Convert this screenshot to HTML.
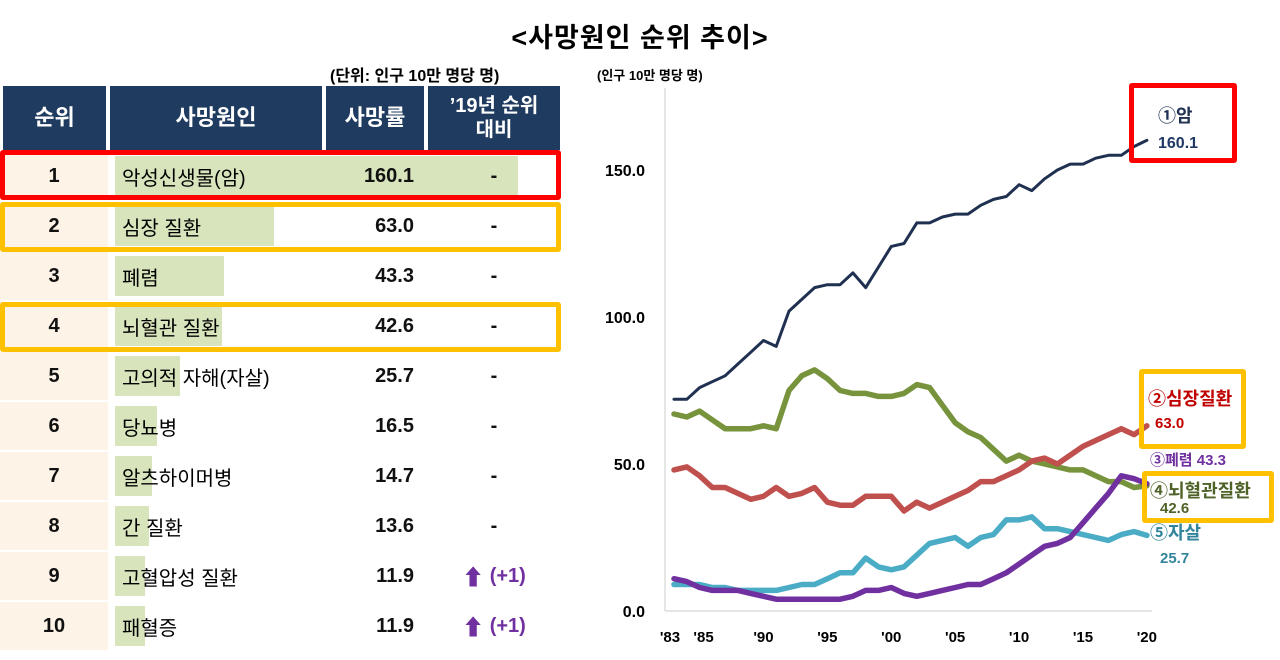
<!DOCTYPE html>
<html><head><meta charset="utf-8"><style>
body{margin:0;width:1280px;height:660px;background:#fff;font-family:"Liberation Sans","Noto Sans CJK KR",sans-serif;position:relative;overflow:hidden}
.a{position:absolute}
.hd{position:absolute;top:86px;height:64px;background:#1f3b5f;color:#fff;font-size:22px;font-weight:bold;display:flex;align-items:center;justify-content:center;text-align:center;line-height:24px}
.row{position:absolute;left:0;width:560px;height:48px;font-size:20px;font-weight:bold;color:#111}
.row>div{position:absolute;top:0;height:48px;display:flex;align-items:center}
.rk{left:0;width:108px;background:#fdf3e6;justify-content:center}
.row>.bar{left:115px;top:4px;height:40px;background:#d8e4bc}
.cn{left:122px;font-weight:normal;color:#000}
.rt{left:326px;width:88px;justify-content:flex-end}
.ch{left:428px;width:132px;justify-content:center}
.box{position:absolute;border:5px solid #f00;border-radius:3px}
.ob{border-color:#ffc000}
</style></head><body>
<div class="a" style="left:0;width:1280px;top:16px;text-align:center;font-size:27px;font-weight:bold;letter-spacing:1px">&lt;사망원인 순위 추이&gt;</div>
<div class="a" style="left:330px;top:62px;font-size:16px;font-weight:bold">(단위: 인구 10만 명당 명)</div>
<div class="hd" style="left:3px;width:103px">순위</div>
<div class="hd" style="left:110px;width:212px">사망원인</div>
<div class="hd" style="left:326px;width:98px">사망률</div>
<div class="hd" style="left:428px;width:132px;font-size:20px">’19년 순위<br>대비</div>
<div id="rows"></div>
<div class="box" style="left:0;top:150px;width:551px;height:40px"></div>
<div class="box ob" style="left:0;top:202px;width:551px;height:40px"></div>
<div class="box ob" style="left:0;top:302px;width:551px;height:40px"></div>
<svg id="chart" class="a" style="left:0;top:0" width="1280" height="660"></svg>
<div class="box" style="left:1129px;top:83px;width:98px;height:70px"></div>
<div class="box ob" style="left:1139px;top:369px;width:97px;height:70px"></div>
<div class="box ob" style="left:1142px;top:471px;width:122px;height:42px"></div>
<script>
const ranks=[1,2,3,4,5,6,7,8,9,10];
const causes=["악성신생물(암)","심장 질환","폐렴","뇌혈관 질환","고의적 자해(자살)","당뇨병","알츠하이머병","간 질환","고혈압성 질환","패혈증"];
const rates=[160.1,63.0,43.3,42.6,25.7,16.5,14.7,13.6,11.9,11.9];
const changes=["-","-","-","-","-","-","-","-","(+1)","(+1)"];
const R=document.getElementById('rows');
ranks.forEach((r,i)=>{
 const d=document.createElement('div');d.className='row';d.style.top=(152+i*50)+'px';
 
 
 const up=changes[i]!=='-'?'<span style="color:#7030a0;font-size:22px">⬆</span><span style="color:#7030a0">&nbsp;'+changes[i]+'</span>':changes[i];
 d.innerHTML='<div class="rk">'+r+'</div><div class="bar" style="width:'+(rates[i]*2.52)+'px"></div><div class="cn">'+causes[i]+'</div><div class="rt">'+rates[i].toFixed(1)+'</div><div class="ch">'+up+'</div>';
 R.appendChild(d);
});
const years=[];for(let y=1983;y<=2020;y++)years.push(y);
const cancer=[72,72,76,78,80,84,88,92,90,102,106,110,111,111,115,110,117,124,125,132,132,134,135,135,138,140,141,145,143,147,150,152,152,154,155,155,158,160.1];
const stroke=[67,66,68,65,62,62,62,63,62,75,80,82,79,75,74,74,73,73,74,77,76,70,64,61,59,55,51,53,51,50,49,48,48,46,44,44,42,42.6];
const heart=[48,49,46,42,42,40,38,39,42,39,40,42,37,36,36,39,39,39,34,37,35,37,39,41,44,44,46,48,51,52,50,53,56,58,60,62,60,63.0];
const pneumonia=[11,10,8,7,7,7,6,5,4,4,4,4,4,4,5,7,7,8,6,5,6,7,8,9,9,11,13,16,19,22,23,25,30,35,40,46,45,43.3];
const suicide=[9,9,9,8,8,7,7,7,7,8,9,9,11,13,13,18,15,14,15,19,23,24,25,22,25,26,31,31,32,28,28,27,26,25,24,26,27,25.7];
const yTicks=[0,50,100,150];
const xTicks=[["'83",1983],["'85",1985],["'90",1990],["'95",1995],["'00",2000],["'05",2005],["'10",2010],["'15",2015],["'20",2020]];
const X=y=>674+(y-1983)*12.78, Y=v=>611-v*2.94;
const S=document.getElementById('chart'),NS='http://www.w3.org/2000/svg';
function el(t,a,txt){const e=document.createElementNS(NS,t);for(const k in a)e.setAttribute(k,a[k]);if(txt!=null)e.textContent=txt;S.appendChild(e);return e;}
let e=el('line',{x1:665,y1:88,x2:665,y2:611,stroke:'#ccc'});
e=el('line',{x1:665,y1:611,x2:1152,y2:611,stroke:'#ccc'});
yTicks.forEach(v=>{e=el('text',{x:645,y:Y(v)+6,'text-anchor':'end','font-size':16,'font-weight':'bold','font-family':'Liberation Sans'},v.toFixed(1));});
xTicks.forEach(t=>{e=el('text',{x:X(t[1])+(t[0]=="'83"?-4:t[0]=="'85"?4:0),y:642,'text-anchor':'middle','font-size':15,'font-weight':'bold','font-family':'Liberation Sans'},t[0]);});
e=el('text',{x:597,y:80,'font-size':13,'font-weight':'bold'},'(인구 10만 명당 명)');
const series=[[stroke,'#77933c','line-stroke'],[heart,'#c0504d','line-heart'],[suicide,'#4bacc6','line-suicide'],[pneumonia,'#7030a0','line-pneumonia'],[cancer,'#1f3050','line-cancer']];
series.forEach(s=>{const p=s[0].map((v,i)=>(i?'L':'M')+X(years[i]).toFixed(1)+','+Y(v).toFixed(1)).join('');
 e=el('path',{d:p,fill:'none',stroke:s[1],'stroke-width':s[2]=='line-cancer'?3:5.5,'stroke-linejoin':'round','stroke-linecap':'round'});});
const labels=[[1158,122,'①암','#1f3050',18,'cancer-name'],[1158,148,'160.1','#1f3864',16,'cancer-value'],[1148,405,'②심장질환','#c00000',18,'heart-name'],[1155,428,'63.0','#c00000',15,'heart-value'],[1150,465,'③폐렴  43.3','#7030a0',15,'pneumonia-label'],[1150,497,'④뇌혈관질환','#4f6228',18,'stroke-name'],[1160,513,'42.6','#4f6228',15,'stroke-value'],[1150,539,'⑤자살','#31849b',18,'suicide-name'],[1160,563,'25.7','#31859b',15,'suicide-value']];
labels.forEach(l=>{e=el('text',{x:l[0],y:l[1],fill:l[3],'font-size':l[4],'font-weight':'bold'},l[2]);});
</script>
</body></html>
